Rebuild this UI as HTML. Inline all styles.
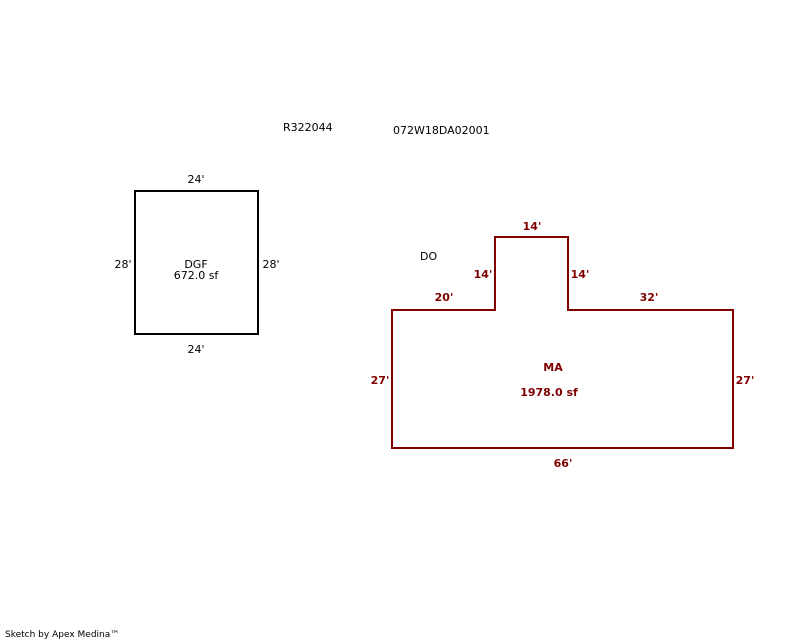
<!DOCTYPE html>
<html><head><style>body{margin:0;background:#fff}svg{display:block}</style></head><body>
<svg width="800" height="640" xmlns="http://www.w3.org/2000/svg" font-family="DejaVu Sans, Liberation Sans, sans-serif">
<rect width="800" height="640" fill="#fff"/>
<g font-size="11" fill="#000">
<text x="283" y="131">R322044</text>
<text x="393" y="134">072W18DA02001</text>
<text x="420" y="260">DO</text>
<text x="196" y="183" text-anchor="middle">24'</text>
<text x="196" y="353" text-anchor="middle">24'</text>
<text x="123" y="268" text-anchor="middle">28'</text>
<text x="271" y="268" text-anchor="middle">28'</text>
<text x="196" y="268" text-anchor="middle">DGF</text>
<text x="196" y="279" text-anchor="middle">672.0 sf</text>
<text x="5" y="637" font-size="9">Sketch by Apex Medina™</text>
</g>
<rect x="135" y="191" width="123" height="143" fill="none" stroke="#000" stroke-width="2"/>
<polygon points="392,310 495,310 495,237 568,237 568,310 733,310 733,448 392,448" fill="none" stroke="#800000" stroke-width="2"/>
<g font-size="11" font-weight="bold" fill="#800000" text-anchor="middle">
<text x="532" y="230">14'</text>
<text x="483" y="278">14'</text>
<text x="580" y="278">14'</text>
<text x="444" y="301">20'</text>
<text x="649" y="301">32'</text>
<text x="380" y="384">27'</text>
<text x="745" y="384">27'</text>
<text x="563" y="467">66'</text>
<text x="553" y="371">MA</text>
<text x="549" y="396">1978.0 sf</text>
</g>
</svg>
</body></html>
